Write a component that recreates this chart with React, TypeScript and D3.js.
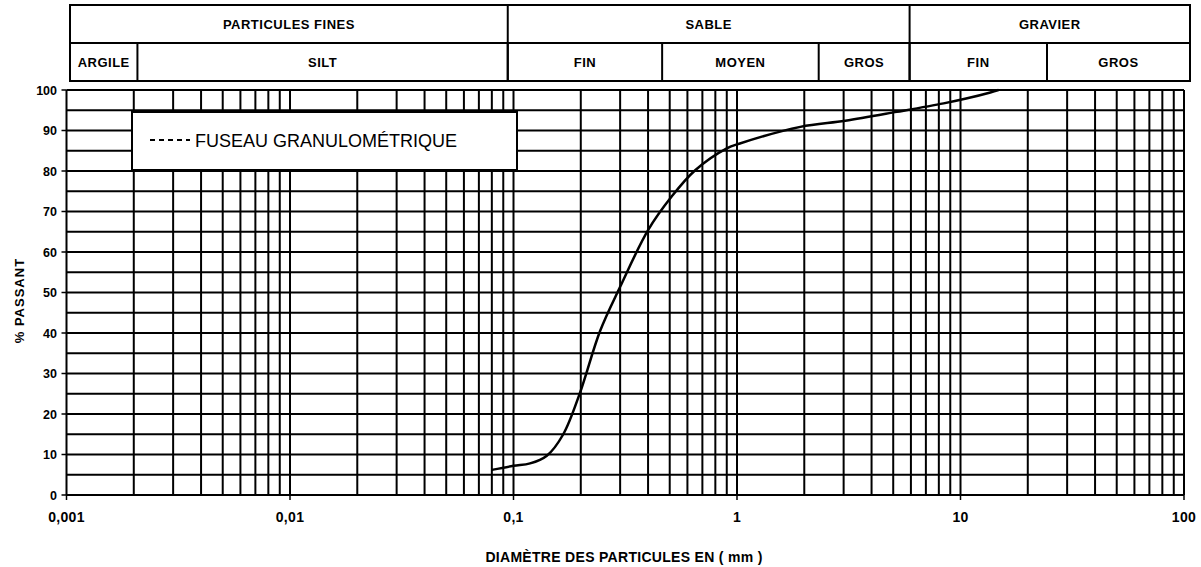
import React from "react";
import * as d3 from "d3";

// ---- data ----
const diameters = [0.08, 0.1, 0.1186, 0.141, 0.167, 0.198, 0.244, 0.3, 0.4, 0.51, 0.65, 0.9, 1.03, 1.92, 3.05, 5.19, 8.4, 10.6, 13.6, 14.8];
const passing = [6.2, 7.2, 7.8, 9.7, 15.0, 25.1, 40.5, 51.4, 65.4, 73.7, 80.2, 85.6, 86.8, 90.9, 92.4, 94.6, 96.7, 97.9, 99.4, 100];

const xTickValues = [0.001, 0.01, 0.1, 1, 10, 100];
const xTickLabels = ["0,001", "0,01", "0,1", "1", "10", "100"];
const yTickValues = [0, 10, 20, 30, 40, 50, 60, 70, 80, 90, 100];

// header classification (grain size boundaries in mm)
const groupNames = ["PARTICULES FINES", "SABLE", "GRAVIER"];
const groupBounds = [0.001, 0.09, 5.6, 100];
const classNames = ["ARGILE", "SILT", "FIN", "MOYEN", "GROS", "FIN", "GROS"];
const classBounds = [0.001, 0.002, 0.09, 0.44, 2.2, 5.6, 23, 100];

const legendLabel = "FUSEAU GRANULOMÉTRIQUE";
const xTitle = "DIAMÈTRE DES PARTICULES EN ( mm )";
const yTitle = "% PASSANT";

export default function App() {
  const W = 1201, H = 567;
  const x = d3.scaleLog().domain([0.001, 100]).range([66.5, 1184]);
  const y = d3.scaleLinear().domain([0, 100]).range([495, 90]);
  const hx = d3.scaleLog().domain([0.001, 100]).range([70, 1190]);

  // vertical grid values: 1..9 × each decade
  const vGrid: number[] = [];
  for (let e = -3; e < 2; e++) {
    for (let m = 1; m <= 9; m++) vGrid.push(m * Math.pow(10, e));
  }
  vGrid.push(100);
  const hGrid = d3.range(0, 101, 5);

  const line = d3
    .line<number>()
    .x((_, i) => x(diameters[i]))
    .y((d) => y(d))
    .curve(d3.curveCatmullRom.alpha(0.5));

  const font = "'Liberation Sans', Arial, sans-serif";
  const row1 = [5, 43];
  const row2 = [43, 81];

  return (
    <svg width={W} height={H} style={{ position: "absolute", left: 0, top: 0, background: "#fff" }} fontFamily={font}>
      <rect x={0} y={0} width={W} height={H} fill="#fff" />
      {/* header table */}
      <g stroke="#000" strokeWidth={2} fill="none">
        <rect x={hx(0.001)} y={row1[0]} width={hx(100) - hx(0.001)} height={row2[1] - row1[0]} />
        <line x1={hx(0.001)} x2={hx(100)} y1={row1[1]} y2={row1[1]} />
        {groupBounds.slice(1, -1).map((b, i) => (
          <line key={"gb" + i} x1={hx(b)} x2={hx(b)} y1={row1[0]} y2={row2[1]} />
        ))}
        {classBounds.slice(1, -1).map((b, i) => (
          <line key={"cb" + i} x1={hx(b)} x2={hx(b)} y1={row2[0]} y2={row2[1]} />
        ))}
      </g>
      <g fontWeight="bold" fontSize={13} letterSpacing={0.5} textAnchor="middle" fill="#000">
        {groupNames.map((n, i) => (
          <text key={"gn" + i} x={(hx(groupBounds[i]) + hx(groupBounds[i + 1])) / 2} y={(row1[0] + row1[1]) / 2 + 5}>
            {n}
          </text>
        ))}
        {classNames.map((n, i) => (
          <text key={"cn" + i} x={(hx(classBounds[i]) + hx(classBounds[i + 1])) / 2} y={(row2[0] + row2[1]) / 2 + 5}>
            {n}
          </text>
        ))}
      </g>

      {/* grid */}
      <g stroke="#000" strokeWidth={2}>
        {hGrid.map((v) => (
          <line key={"h" + v} x1={x(0.001)} x2={x(100)} y1={y(v)} y2={y(v)} />
        ))}
        {vGrid.map((v, i) => (
          <line key={"v" + i} x1={x(v)} x2={x(v)} y1={y(0)} y2={y(100)} />
        ))}
        {yTickValues.map((v) => (
          <line key={"yt" + v} x1={x(0.001) - 5} x2={x(0.001)} y1={y(v)} y2={y(v)} strokeWidth={1.5} />
        ))}
        {xTickValues.map((v) => (
          <line key={"xt" + v} x1={x(v)} x2={x(v)} y1={y(0)} y2={y(0) + 5} strokeWidth={1.5} />
        ))}
      </g>

      {/* legend */}
      <g>
        <rect x={132} y={112} width={385} height={58} fill="#fff" stroke="#000" strokeWidth={2} />
        <line x1={150} x2={190} y1={140} y2={140} stroke="#000" strokeWidth={2} strokeDasharray="5,4" />
        <text x={195} y={146.5} fontSize={18} fill="#000">
          {legendLabel}
        </text>
      </g>

      {/* curve */}
      <path d={line(passing) || ""} fill="none" stroke="#000" strokeWidth={2.5} />

      {/* axis labels */}
      <g fontWeight="bold" fontSize={12.5} fill="#000" textAnchor="end">
        {yTickValues.map((v) => (
          <text key={"yl" + v} x={57} y={y(v) + 4.5}>
            {v}
          </text>
        ))}
      </g>
      <g fontWeight="bold" fontSize={14} letterSpacing={0.3} fill="#000" textAnchor="middle">
        {xTickValues.map((v, i) => (
          <text key={"xl" + v} x={x(v)} y={522}>
            {xTickLabels[i]}
          </text>
        ))}
        <text x={624} y={562}>{xTitle}</text>
      </g>
      <text
        transform={`translate(24, ${y(48)}) rotate(-90)`}
        textAnchor="middle"
        fontWeight="bold"
        fontSize={13}
        letterSpacing={1}
        fill="#000"
      >
        {yTitle}
      </text>
    </svg>
  );
}
